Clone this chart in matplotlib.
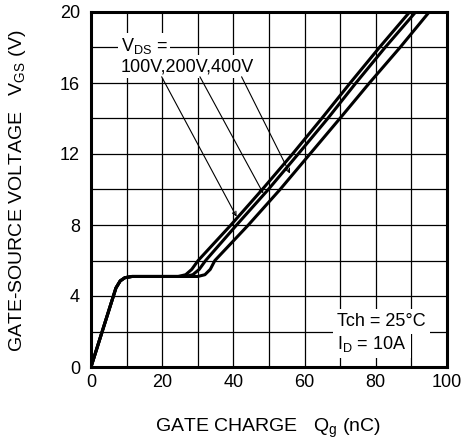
import matplotlib
matplotlib.use('Agg')
import matplotlib.pyplot as plt
import numpy as np

plt.rcParams['font.family'] = ['Liberation Sans', 'DejaVu Sans']
plt.rcParams['mathtext.fontset'] = 'custom'
plt.rcParams['mathtext.rm'] = 'Liberation Sans'
plt.rcParams['mathtext.it'] = 'Liberation Sans'

FS = 13
FS_LABEL = 14

# gate charge curves (Qg in nC, Vgs in V)
qg_start = [0, 7.0, 8.2, 9.5, 11.5]
vgs_start = [0, 4.45, 4.85, 5.03, 5.1]

qg_100 = [24.5, 26.6, 28.3, 30.1, 39.3, 48.1, 56.6, 64.8, 72.8, 81.0, 89.5]
qg_200 = [26.5, 28.6, 30.4, 32.2, 40.9, 49.8, 58.2, 66.5, 74.4, 82.6, 91.2]
qg_400 = [30.0, 32.0, 33.5, 34.8, 44.2, 53.1, 61.5, 69.9, 78.2, 86.8, 95.0]
vgs_rise = [5.1, 5.2, 5.5, 6, 8, 10, 12, 14, 16, 18, 20]

# leader lines: label point -> curve point
leader_from = [(19.85, 16.35), (30.6, 16.35), (42.3, 16.35)]
leader_to = [(40.9, 8.47), (48.4, 9.78), (55.9, 10.9)]

fig = plt.figure(figsize=(4.64, 4.44), dpi=100)
ax = fig.add_axes([91/464, 1-367/444, 356/464, 355/444])

ax.set_xlim(0, 100)
ax.set_ylim(0, 20)
ax.set_xticks(np.arange(0, 101, 20))
ax.set_yticks(np.arange(0, 21, 4))
ax.set_xticks(np.arange(0, 101, 10), minor=True)
ax.set_yticks(np.arange(0, 21, 2), minor=True)
ax.tick_params(which='both', length=0, labelsize=FS)
ax.tick_params(axis='x', pad=5)
ax.tick_params(axis='y', pad=8)
ax.grid(which='both', color='black', linewidth=0.9)
ax.set_axisbelow(True)
for sp in ax.spines.values():
    sp.set_linewidth(2.2)
    sp.set_zorder(5)

for q in (qg_100, qg_200, qg_400):
    ax.plot(qg_start + q, vgs_start + vgs_rise, color='black', linewidth=2.2,
            solid_joinstyle='round', zorder=3)

box = dict(facecolor='white', edgecolor='none', pad=2)
ax.text(8.3, 18.08, r'V$\mathregular{_{DS}}$ =', fontsize=FS, va='center', ha='left',
        bbox=box, zorder=4)
ax.text(8.3, 16.92, '100V,200V,400V', fontsize=FS, va='center', ha='left',
        bbox=box, zorder=4)
for p0, p1 in zip(leader_from, leader_to):
    ax.annotate('', xy=p1, xytext=p0,
                arrowprops=dict(arrowstyle='->', color='black', lw=0.8,
                                mutation_scale=7, shrinkA=0, shrinkB=0),
                zorder=4)

ax.text(69.2, 2.55, 'Tch = 25°C', fontsize=FS, va='center', ha='left',
        bbox=dict(facecolor='white', edgecolor='none', pad=3), zorder=4)
ax.text(69.2, 1.29, r'I$\mathregular{_D}$ = 10A', fontsize=FS, va='center', ha='left',
        bbox=dict(facecolor='white', edgecolor='none', pad=3), zorder=4)

fig.text(268/464, 1-428/444, r'GATE CHARGE   Q$\mathregular{_g}$ (nC)', fontsize=FS_LABEL,
         ha='center', va='center')
fig.text(18/464, 1-191/444, r'GATE-SOURCE VOLTAGE   V$\mathregular{_{GS}}$ (V)',
         fontsize=FS_LABEL, ha='center', va='center', rotation=90)

fig.savefig('out.png', dpi=100)
